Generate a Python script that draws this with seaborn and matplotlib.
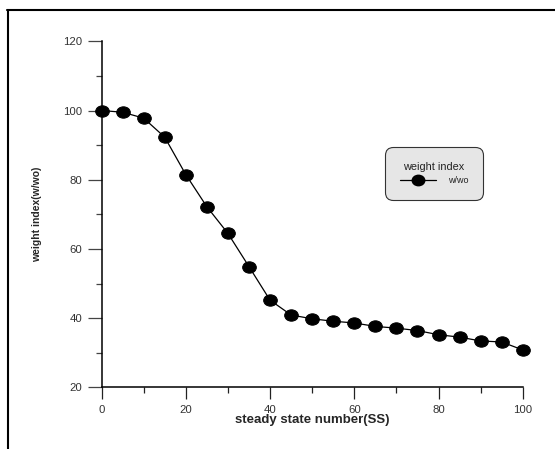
import numpy as np
import pandas as pd
import matplotlib
matplotlib.use("Agg")
import matplotlib.pyplot as plt
import seaborn as sns
from matplotlib.path import Path
from matplotlib.transforms import Affine2D
from matplotlib.lines import Line2D
from matplotlib.ticker import FixedLocator, MultipleLocator

# ---- data ----
ss = [0, 5, 10, 15, 20, 25, 30, 35, 40, 45, 50, 55, 60, 65, 70, 75, 80, 85, 90, 95, 100]
weight = [100.0, 99.5, 97.8, 92.3, 81.5, 72.2, 64.5, 54.9, 45.2, 40.9, 39.8, 39.1,
          38.6, 37.6, 37.1, 36.4, 35.2, 34.5, 33.4, 33.1, 30.8]
x_ticks = [0, 20, 40, 60, 80, 100]
y_ticks = [20, 40, 60, 80, 100, 120]
series_name = "w/wo"
legend_title = "weight index"
xlabel = "steady state number(SS)"
ylabel = "weight index(w/wo)"

sns.set_style("ticks")
plt.rcParams['font.family'] = ['Liberation Sans', 'DejaVu Sans']

fig = plt.figure(figsize=(5.55, 4.49), dpi=100)
ax = fig.add_axes([0.1829, 0.1374, 0.759, 0.7706])

ell = Path.unit_circle().transformed(Affine2D().scale(1.2, 1.0))

df = pd.DataFrame({"ss": ss, "w": weight, "series": series_name})
sns.lineplot(data=df, x="ss", y="w", color="black", linewidth=0.9,
             marker=ell, markersize=9.8, markeredgecolor="black",
             markerfacecolor="black", ax=ax, legend=False, clip_on=False)

ax.set_xlim(0, 100)
ax.set_ylim(20, 120)
ax.xaxis.set_major_locator(FixedLocator(x_ticks))
ax.yaxis.set_major_locator(FixedLocator(y_ticks))
ax.xaxis.set_minor_locator(MultipleLocator(10))
ax.yaxis.set_minor_locator(MultipleLocator(10))

for s in ["top", "right"]:
    ax.spines[s].set_visible(False)
for s in ["left", "bottom"]:
    ax.spines[s].set_linewidth(1.1)
    ax.spines[s].set_color("black")

ax.tick_params(axis="x", which="major", length=8.4, width=0.9, direction="out",
               pad=4.0, labelsize=8.2, labelcolor="#333333", color="#222222")
ax.tick_params(axis="x", which="minor", length=4.0, width=0.9, direction="out", color="#222222")
ax.tick_params(axis="y", which="major", length=10, width=0.9, direction="out",
               pad=4.0, labelsize=8.2, labelcolor="#333333", color="#444444")
ax.tick_params(axis="y", which="minor", length=4.3, width=0.9, direction="out", color="#444444")

ax.set_xlabel(xlabel, fontsize=9.5, fontweight="bold")
ax.set_ylabel(ylabel, fontsize=7.5, fontweight="bold")
ax.xaxis.set_label_coords(0.5, -0.077)
ax.yaxis.set_label_coords(-0.142, 0.5)

handle = Line2D([], [], color="black", linewidth=0.9, marker=ell, markersize=9.0,
                markerfacecolor="black", markeredgecolor="black")
leg = ax.legend(handles=[handle], labels=[series_name], title=legend_title,
                loc="upper left", bbox_to_anchor=(385 / 555, 1 - 147 / 449),
                bbox_transform=fig.transFigure, fontsize=6.5, title_fontsize=7.8,
                frameon=True, fancybox=True, handlelength=4.0, handletextpad=1.3,
                borderpad=1.65, borderaxespad=0)
frame = leg.get_frame()
frame.set_facecolor("#e6e6e6")
frame.set_edgecolor("#333333")
frame.set_linewidth(0.8)
frame.set_alpha(1)
frame.set_boxstyle("round,pad=0,rounding_size=0.9")
leg.get_title().set_color("#222222")
for t in leg.get_texts():
    t.set_color("#222222")

# figure border (top and left)
fig.add_artist(Line2D([7 / 555, 1], [1 - 10 / 449, 1 - 10 / 449], transform=fig.transFigure,
                      color="black", linewidth=1.5))
fig.add_artist(Line2D([8 / 555, 8 / 555], [1 - 10 / 449, 0], transform=fig.transFigure,
                      color="black", linewidth=1.5))

fig.savefig("out.png", dpi=100)
